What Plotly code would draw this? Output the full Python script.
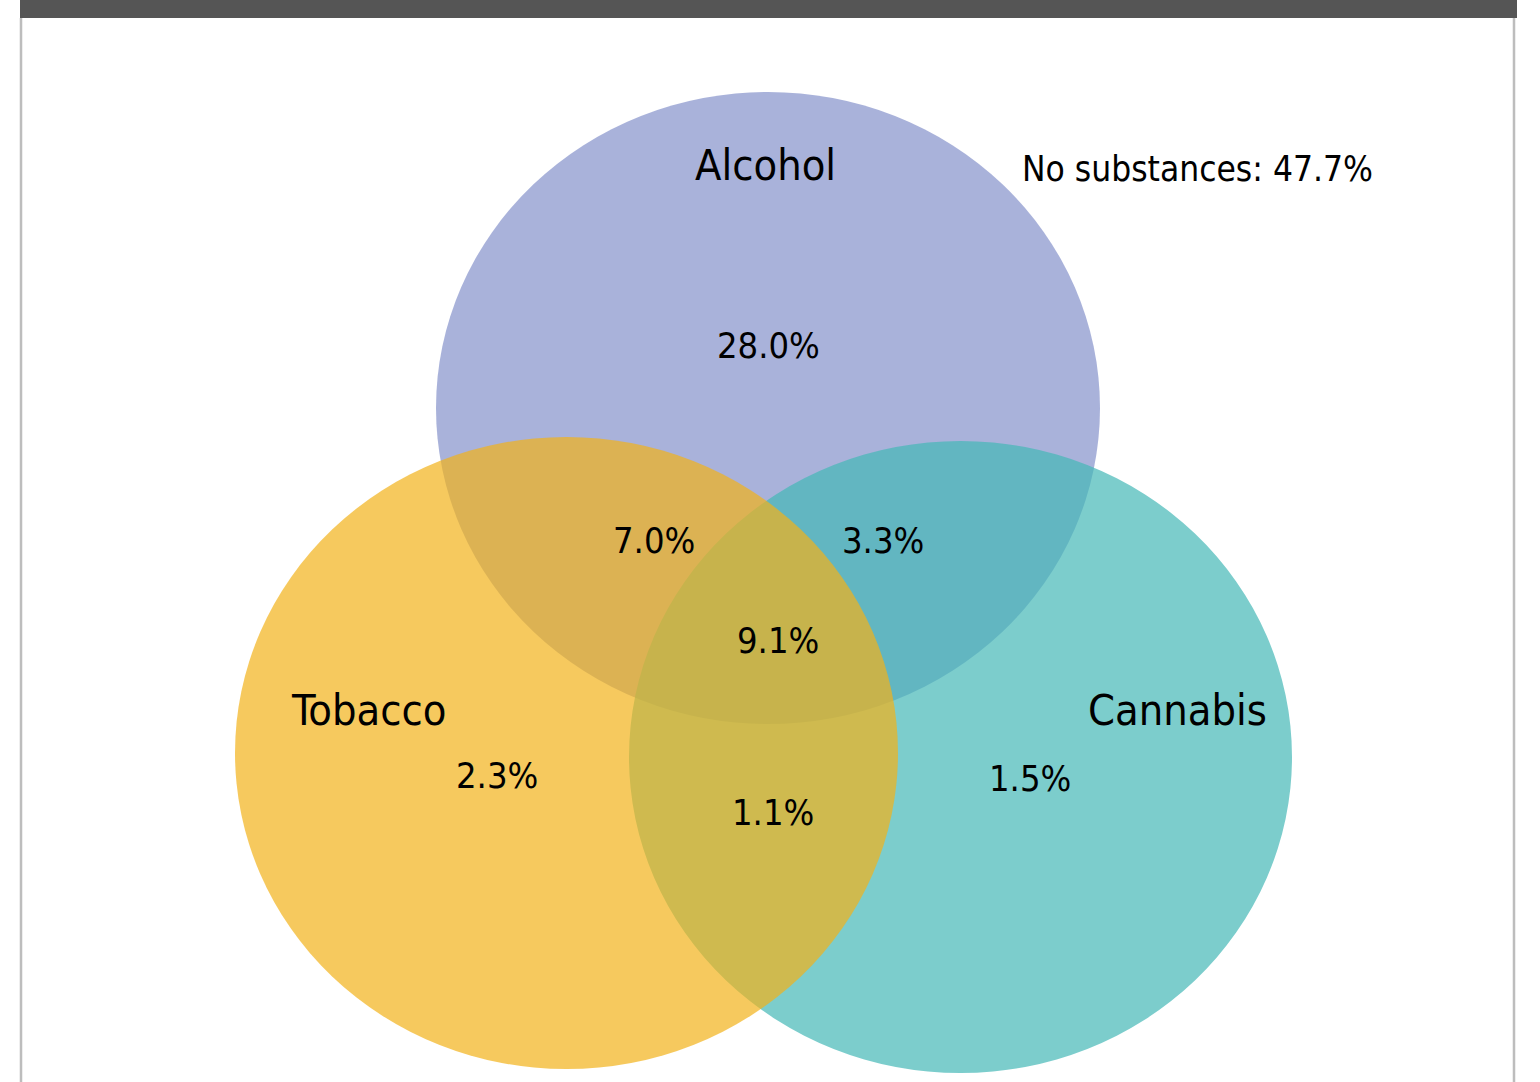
import plotly.graph_objects as go

# ---- data ----
set_names = ["Alcohol", "Cannabis", "Tobacco"]
set_colors = ["#8492CA", "#45B8B6", "#F2B21A"]
region_labels = ["Alcohol only", "Alcohol & Tobacco", "Alcohol & Cannabis", "All three",
                 "Tobacco only", "Tobacco & Cannabis", "Cannabis only"]
region_values = [28.0, 7.0, 3.3, 9.1, 2.3, 1.1, 1.5]
none_label = "No substances"
none_value = 47.7

# ---- layout geometry (pixel space) ----
W, H = 1540, 1082
ellipses = {
    "Alcohol": (436, 92, 1100, 724),
    "Cannabis": (629, 441, 1292, 1073),
    "Tobacco": (235, 437, 898, 1069),
}
name_pos = {"Alcohol": (765, 165), "Cannabis": (1177, 710), "Tobacco": (368, 710)}
value_pos = [(768, 345), (654, 540), (883, 540), (778, 640), (497, 775), (773, 812), (1030, 778)]
none_pos = (1197, 169)

FONT = "Liberation Sans Narrow, DejaVu Sans Condensed, sans-serif"

fig = go.Figure()
fig.add_trace(go.Scatter(x=[0, W], y=[0, H], mode="markers", marker=dict(opacity=0),
                         hoverinfo="skip", showlegend=False))

shapes = []
for name, color in zip(set_names, set_colors):
    x0, y0, x1, y1 = ellipses[name]
    shapes.append(dict(type="circle", xref="x", yref="y", x0=x0, y0=y0, x1=x1, y1=y1,
                       fillcolor=color, opacity=0.7, line=dict(width=0), layer="below"))
# frame
shapes.append(dict(type="rect", xref="x", yref="y", x0=20, y0=0, x1=1517, y1=18,
                   fillcolor="#555555", line=dict(width=0), layer="above"))
shapes.append(dict(type="line", xref="x", yref="y", x0=21, y0=18, x1=21, y1=H,
                   line=dict(color="#bdbdbd", width=2.5), layer="above"))
shapes.append(dict(type="line", xref="x", yref="y", x0=1514, y0=18, x1=1514, y1=H,
                   line=dict(color="#bdbdbd", width=2.5), layer="above"))

annotations = []
for name in set_names:
    x, y = name_pos[name]
    annotations.append(dict(x=x, y=y, xref="x", yref="y", text=name, showarrow=False,
                            font=dict(family=FONT, size=43, color="#000000"),
                            xanchor="center", yanchor="middle"))
for (x, y), v in zip(value_pos, region_values):
    annotations.append(dict(x=x, y=y, xref="x", yref="y", text=f"{v:.1f}%", showarrow=False,
                            font=dict(family=FONT, size=36, color="#000000"),
                            xanchor="center", yanchor="middle"))
annotations.append(dict(x=none_pos[0], y=none_pos[1], xref="x", yref="y",
                        text=f"{none_label}: {none_value:.1f}%", showarrow=False,
                        font=dict(family=FONT, size=35, color="#000000"),
                        xanchor="center", yanchor="middle"))

fig.update_layout(
    width=W, height=H, margin=dict(l=0, r=0, t=0, b=0),
    paper_bgcolor="white", plot_bgcolor="white",
    xaxis=dict(range=[0, W], visible=False, fixedrange=True),
    yaxis=dict(range=[H, 0], visible=False, fixedrange=True),
    shapes=shapes, annotations=annotations, showlegend=False,
)
fig.write_html("out.html", config={"displayModeBar": False})
